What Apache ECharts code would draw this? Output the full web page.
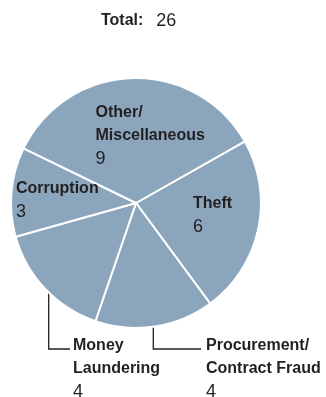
<!DOCTYPE html>
<html><head><meta charset="utf-8">
<script src="https://cdn.jsdelivr.net/npm/echarts@6/dist/echarts.min.js"></script>
<style>html,body{margin:0;padding:0;background:#fff}#c{width:326px;height:397px}</style>
</head><body><div id="c"></div>
<script>
const categories = ['Theft', 'Procurement/\nContract Fraud', 'Money\nLaundering', 'Corruption', 'Other/\nMiscellaneous'];
const values = [6, 4, 4, 3, 9];
const totalLabel = 'Total:';
const totalValue = 26;

const FONT = "'Liberation Sans', Arial, sans-serif";
const INK = '#231f20';
const FILL = '#8ba6bc';

// label placement (top-left of each label block) and leader lines
const labelPos = [
  {x: 193, y: 192},
  {x: 206, y: 334, line: [[153.3, 311.7], [153.3, 349], [201, 349]]},
  {x: 73, y: 334, line: [[48.7, 273.3], [48.7, 349], [70, 349]]},
  {x: 16, y: 177},
  {x: 95.5, y: 101}
];

const chart = echarts.init(document.getElementById('c'), null, {renderer: 'canvas'});
chart.setOption({
  animation: false,
  title: {
    text: '{b|' + totalLabel + '}{n|' + totalValue + '}',
    left: 101, top: 12, padding: 0,
    textStyle: {
      rich: {
        b: {fontFamily: FONT, fontWeight: 'bold', fontSize: 16, color: INK, lineHeight: 18},
        n: {fontFamily: FONT, fontWeight: 'normal', fontSize: 18, color: INK, lineHeight: 18, padding: [0, 0, 0, 13]}
      }
    }
  },
  series: [{
    type: 'pie',
    center: [136, 203],
    radius: 125,
    startAngle: 29.5,
    clockwise: true,
    avoidLabelOverlap: false,
    emphasis: {disabled: true},
    itemStyle: {color: FILL, borderColor: '#fff', borderWidth: 2},
    label: {
      show: true,
      position: 'outside',
      formatter: function (p) {
        const lines = p.name.split('\n').map(s => '{n|' + s + '}');
        return lines.join('\n') + '\n{v|' + p.value + '}';
      },
      rich: {
        n: {fontFamily: FONT, fontWeight: 'bold', fontSize: 16, color: INK, lineHeight: 23.3},
        v: {fontFamily: FONT, fontWeight: 'normal', fontSize: 18, color: INK, lineHeight: 23.3}
      }
    },
    labelLine: {show: true, lineStyle: {color: INK, width: 1.3}},
    labelLayout: function (p) {
      const lp = labelPos[p.dataIndex];
      const r = {x: lp.x, y: lp.y, align: 'left', verticalAlign: 'top'};
      if (lp.line) r.labelLinePoints = lp.line;
      return r;
    },
    data: categories.map((c, i) => ({
      name: c, value: values[i],
      labelLine: {show: !!labelPos[i].line}
    }))
  }]
});
</script></body></html>
